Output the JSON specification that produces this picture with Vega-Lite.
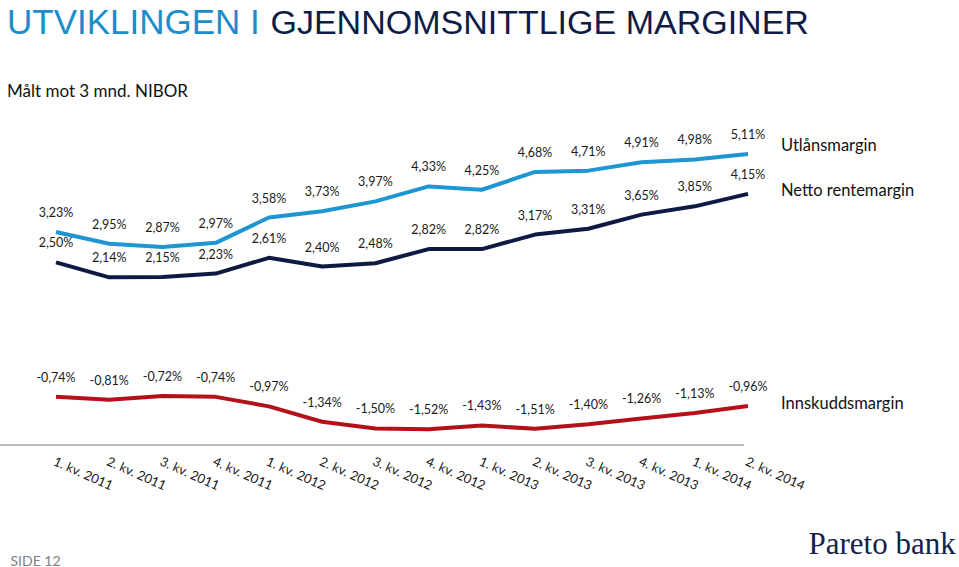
{
  "$schema": "https://vega.github.io/schema/vega-lite/v6.json",
  "width": 744,
  "height": 303,
  "autosize": {"type": "none"},
  "padding": {"left": 0, "top": 142, "right": 215, "bottom": 122},
  "background": "white",
  "title": {
    "text": "UTVIKLINGEN I",
    "subtitle": "Målt mot 3 mnd. NIBOR",
    "anchor": "start",
    "frame": "group",
    "dx": 7,
    "offset": -94,
    "font": "Liberation Sans",
    "fontSize": 35,
    "fontWeight": "normal",
    "color": "#1B8DCB",
    "subtitleFont": "Lato",
    "subtitleFontSize": 17,
    "subtitleColor": "#111111",
    "subtitlePadding": 43
  },
  "data": {
    "values": [
      {"q": "1. kv. 2011", "serie": "Utlånsmargin", "v": 0.0323},
      {"q": "2. kv. 2011", "serie": "Utlånsmargin", "v": 0.0295},
      {"q": "3. kv. 2011", "serie": "Utlånsmargin", "v": 0.0287},
      {"q": "4. kv. 2011", "serie": "Utlånsmargin", "v": 0.0297},
      {"q": "1. kv. 2012", "serie": "Utlånsmargin", "v": 0.0358},
      {"q": "2. kv. 2012", "serie": "Utlånsmargin", "v": 0.0373},
      {"q": "3. kv. 2012", "serie": "Utlånsmargin", "v": 0.0397},
      {"q": "4. kv. 2012", "serie": "Utlånsmargin", "v": 0.0433},
      {"q": "1. kv. 2013", "serie": "Utlånsmargin", "v": 0.0425},
      {"q": "2. kv. 2013", "serie": "Utlånsmargin", "v": 0.0468},
      {"q": "3. kv. 2013", "serie": "Utlånsmargin", "v": 0.0471},
      {"q": "4. kv. 2013", "serie": "Utlånsmargin", "v": 0.0491},
      {"q": "1. kv. 2014", "serie": "Utlånsmargin", "v": 0.0498},
      {"q": "2. kv. 2014", "serie": "Utlånsmargin", "v": 0.0511},
      {"q": "1. kv. 2011", "serie": "Netto rentemargin", "v": 0.0250},
      {"q": "2. kv. 2011", "serie": "Netto rentemargin", "v": 0.0214},
      {"q": "3. kv. 2011", "serie": "Netto rentemargin", "v": 0.0215},
      {"q": "4. kv. 2011", "serie": "Netto rentemargin", "v": 0.0223},
      {"q": "1. kv. 2012", "serie": "Netto rentemargin", "v": 0.0261},
      {"q": "2. kv. 2012", "serie": "Netto rentemargin", "v": 0.0240},
      {"q": "3. kv. 2012", "serie": "Netto rentemargin", "v": 0.0248},
      {"q": "4. kv. 2012", "serie": "Netto rentemargin", "v": 0.0282},
      {"q": "1. kv. 2013", "serie": "Netto rentemargin", "v": 0.0282},
      {"q": "2. kv. 2013", "serie": "Netto rentemargin", "v": 0.0317},
      {"q": "3. kv. 2013", "serie": "Netto rentemargin", "v": 0.0331},
      {"q": "4. kv. 2013", "serie": "Netto rentemargin", "v": 0.0365},
      {"q": "1. kv. 2014", "serie": "Netto rentemargin", "v": 0.0385},
      {"q": "2. kv. 2014", "serie": "Netto rentemargin", "v": 0.0415},
      {"q": "1. kv. 2011", "serie": "Innskuddsmargin", "v": -0.0074},
      {"q": "2. kv. 2011", "serie": "Innskuddsmargin", "v": -0.0081},
      {"q": "3. kv. 2011", "serie": "Innskuddsmargin", "v": -0.0072},
      {"q": "4. kv. 2011", "serie": "Innskuddsmargin", "v": -0.0074},
      {"q": "1. kv. 2012", "serie": "Innskuddsmargin", "v": -0.0097},
      {"q": "2. kv. 2012", "serie": "Innskuddsmargin", "v": -0.0134},
      {"q": "3. kv. 2012", "serie": "Innskuddsmargin", "v": -0.0150},
      {"q": "4. kv. 2012", "serie": "Innskuddsmargin", "v": -0.0152},
      {"q": "1. kv. 2013", "serie": "Innskuddsmargin", "v": -0.0143},
      {"q": "2. kv. 2013", "serie": "Innskuddsmargin", "v": -0.0151},
      {"q": "3. kv. 2013", "serie": "Innskuddsmargin", "v": -0.0140},
      {"q": "4. kv. 2013", "serie": "Innskuddsmargin", "v": -0.0126},
      {"q": "1. kv. 2014", "serie": "Innskuddsmargin", "v": -0.0113},
      {"q": "2. kv. 2014", "serie": "Innskuddsmargin", "v": -0.0096}
    ]
  },
  "layer": [
    {
      "mark": {"type": "rule", "color": "#BDBDBD", "strokeWidth": 1.5},
      "encoding": {
        "y": {"datum": -0.019, "type": "quantitative", "axis": null}
      }
    },
    {
      "encoding": {
        "x": {
          "field": "q", "type": "ordinal",
          "sort": ["1. kv. 2011","2. kv. 2011","3. kv. 2011","4. kv. 2011","1. kv. 2012","2. kv. 2012","3. kv. 2012","4. kv. 2012","1. kv. 2013","2. kv. 2013","3. kv. 2013","4. kv. 2013","1. kv. 2014","2. kv. 2014"],
          "scale": {"type": "point", "range": [56, 748], "padding": 0},
          "axis": {
            "title": "SIDE 12", "titleX": 10, "titleY": 120, "titleAlign": "left", "titleBaseline": "alphabetic",
            "titleFont": "Lato", "titleFontSize": 14, "titleFontWeight": "normal", "titleColor": "#7F7F7F",
            "labelAngle": 24, "labelAlign": "left", "labelBaseline": "top", "labelPadding": 10,
            "labelFont": "Lato", "labelFontSize": 13, "labelColor": "#1A1A1A",
            "ticks": false, "domain": false, "grid": false
          }
        },
        "y": {
          "field": "v", "type": "quantitative",
          "scale": {"domain": [-0.019, 0.054], "nice": false, "zero": false},
          "axis": {
            "orient": "left", "title": "GJENNOMSNITTLIGE MARGINER", "labels": false, "ticks": false, "domain": false, "grid": false,
            "titleAngle": 0, "titleX": 270, "titleY": -109, "titleAlign": "left", "titleBaseline": "alphabetic",
            "titleFont": "Liberation Sans", "titleFontSize": 34, "titleFontWeight": "normal", "titleColor": "#0E1C48"
          }
        }
      },
      "layer": [
        {
          "mark": {"type": "line", "strokeWidth": 4, "strokeJoin": "round"},
          "encoding": {
            "color": {
              "field": "serie", "type": "nominal",
              "scale": {"domain": ["Utlånsmargin", "Netto rentemargin", "Innskuddsmargin"], "range": ["#1E96D1", "#0F1A42", "#B3121B"]},
              "legend": null
            }
          }
        },
        {
          "transform": [{"filter": "datum.q == '2. kv. 2014' && datum.serie == 'Utlånsmargin'"}],
          "mark": {"type": "text", "align": "left", "baseline": "middle", "dx": 33, "dy": -8, "font": "Lato", "fontSize": 16.5, "color": "#111111"},
          "encoding": {"text": {"field": "serie"}}
        },
        {
          "transform": [{"filter": "datum.q == '2. kv. 2014' && datum.serie == 'Netto rentemargin'"}],
          "mark": {"type": "text", "align": "left", "baseline": "middle", "dx": 33, "dy": -3, "font": "Lato", "fontSize": 16.5, "color": "#111111"},
          "encoding": {"text": {"field": "serie"}}
        },
        {
          "transform": [{"filter": "datum.q == '2. kv. 2014' && datum.serie == 'Innskuddsmargin'"}],
          "mark": {"type": "text", "align": "left", "baseline": "middle", "dx": 33, "dy": -2, "font": "Lato", "fontSize": 16.5, "color": "#111111"},
          "encoding": {"text": {"field": "serie"}}
        }
      ]
    },
    {
      "mark": {"type": "text", "align": "center", "baseline": "middle", "dy": -19, "font": "Lato", "fontSize": 12.5, "color": "#1A1A1A"},
      "encoding": {
        "x": {
          "field": "q", "type": "ordinal",
          "sort": ["1. kv. 2011","2. kv. 2011","3. kv. 2011","4. kv. 2011","1. kv. 2012","2. kv. 2012","3. kv. 2012","4. kv. 2012","1. kv. 2013","2. kv. 2013","3. kv. 2013","4. kv. 2013","1. kv. 2014","2. kv. 2014"],
          "scale": {"type": "point", "range": [56, 748], "padding": 0},
          "axis": {
            "title": "SIDE 12", "titleX": 10, "titleY": 120, "titleAlign": "left", "titleBaseline": "alphabetic",
            "titleFont": "Lato", "titleFontSize": 14, "titleFontWeight": "normal", "titleColor": "#7F7F7F",
            "labelAngle": 24, "labelAlign": "left", "labelBaseline": "top", "labelPadding": 10,
            "labelFont": "Lato", "labelFontSize": 13, "labelColor": "#1A1A1A",
            "ticks": false, "domain": false, "grid": false
          }
        },
        "y": {
          "field": "v", "type": "quantitative",
          "scale": {"domain": [-0.019, 0.054], "nice": false, "zero": false},
          "axis": {
            "orient": "right", "title": "Pareto bank", "labels": false, "ticks": false, "domain": false, "grid": false,
            "titleAngle": 0, "titleX": 64, "titleY": 411, "titleAlign": "left", "titleBaseline": "alphabetic",
            "titleFont": "Liberation Serif", "titleFontSize": 31, "titleFontWeight": "normal", "titleColor": "#14214D"
          }
        },
        "text": {"field": "v", "type": "quantitative", "format": ".2%"}
      }
    }
  ],
  "resolve": {"axis": {"y": "independent"}},
  "config": {
    "view": {"stroke": null},
    "locale": {"number": {"decimal": ",", "thousands": " ", "grouping": [3], "currency": ["", " kr"], "minus": "-", "percent": "%"}}
  }
}
